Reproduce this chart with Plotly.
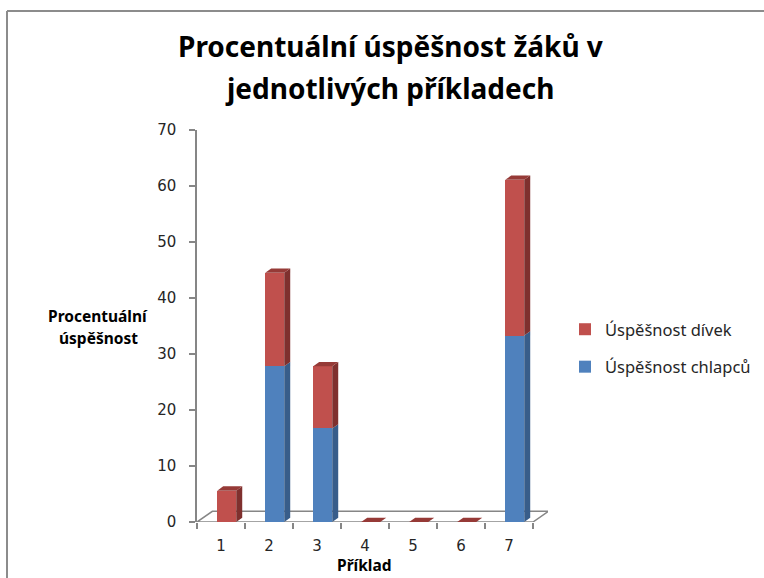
import plotly.graph_objects as go

# Data: success rate (%) per exercise
priklady = ["1", "2", "3", "4", "5", "6", "7"]
chlapci = [0, 27.8, 16.7, 0, 0, 0, 33.3]
divky = [5.6, 16.7, 11.1, 0, 0, 0, 27.8]
nazev_chlapci = "Úspěšnost chlapců"
nazev_divky = "Úspěšnost dívek"
y_ticks = [0, 10, 20, 30, 40, 50, 60, 70]

# Colours: front face, side face, top face
BLUE = ("#4F81BD", "#385D8A", "#3F6696")
RED = ("#C0504D", "#7F302E", "#963A37")
AXIS = "#868686"

# Geometry of the pseudo-3D columns (axis units)
W = 0.396      # column width
OFF = 0.119    # shift of the front face from the category centre
DX = 0.125     # depth shift along x
DY = 0.77      # depth shift along y
FLOOR_DX = 0.32
FLOOR_DY = 1.9

W_PX, H_PX = 764, 578
L, R, T, B = 197, 216, 130, 56
X_MIN = 0.5
X_MAX = X_MIN + (W_PX - L - R) / 48.0

xs = list(range(1, len(priklady) + 1))

fig = go.Figure()
fig.add_trace(go.Bar(
    x=xs, y=chlapci, name=nazev_chlapci, width=W, offset=OFF - W / 2,
    marker=dict(color=BLUE[0], line=dict(width=0)), legendgroup="a", legendrank=2,
))
fig.add_trace(go.Bar(
    x=xs, y=divky, name=nazev_divky, width=W, offset=OFF - W / 2,
    marker=dict(color=RED[0], line=dict(width=0)), legendgroup="b", legendrank=1,
))

shapes = []


def poly(pts, fill, layer="above", line=None):
    d = "M " + " L ".join(f"{x},{y}" for x, y in pts) + " Z"
    shapes.append(dict(type="path", path=d, xref="x", yref="y", fillcolor=fill,
                       line=line or dict(width=0), layer=layer))


# Floor of the 3D plot
poly([(X_MIN, 0), (7.5, 0), (7.5 + FLOOR_DX, FLOOR_DY), (X_MIN + FLOOR_DX, FLOOR_DY)],
     "white", layer="below", line=dict(color=AXIS, width=1.5))

# Side and top faces derived from the stacked values
for x, b_val, g_val in zip(xs, chlapci, divky):
    x0 = x + OFF - W / 2
    x1 = x + OFF + W / 2
    base = 0
    for val, col in ((b_val, BLUE), (g_val, RED)):
        if val > 0:
            top = base + val
            poly([(x1, base), (x1 + DX, base + DY), (x1 + DX, top + DY), (x1, top)], col[1])
            base = top
    poly([(x0, base), (x0 + DX, base + DY), (x1 + DX, base + DY), (x1, base)], RED[2])


# Helpers: container pixels -> paper coordinates
def px_x(p):
    return (p - L) / (W_PX - L - R)


def px_y(p):
    return (H_PX - B - p) / (H_PX - T - B)


# Chart border (top and left edge)
border = dict(color="#8C8C8C", width=2)
shapes.append(dict(type="line", xref="paper", yref="paper",
                   x0=px_x(7), y0=px_y(11), x1=px_x(7), y1=px_y(578), line=border))
shapes.append(dict(type="line", xref="paper", yref="paper",
                   x0=px_x(7), y0=px_y(11), x1=px_x(764), y1=px_y(11), line=border))

title_font = dict(family="Noto Sans", size=28, color="#000000")
lab_font = dict(family="Noto Sans", size=15.5, color="#000000")


def note(text, x, y, font):
    return dict(text=text, x=px_x(x), y=px_y(y), xref="paper", yref="paper",
                xanchor="center", yanchor="middle", showarrow=False, font=font)


annotations = [
    note("<b>Procentuální úspěšnost žáků v</b>", 390, 46, title_font),
    note("<b>jednotlivých příkladech</b>", 389, 88, title_font),
    note("<b>Procentuální</b>", 98, 316, lab_font),
    note("<b>úspěšnost</b>", 98, 338, lab_font),
    note("<b>Příklad</b>", 364, 565, lab_font),
]

fig.update_layout(
    width=W_PX, height=H_PX,
    margin=dict(l=L, r=R, t=T, b=B, pad=0),
    paper_bgcolor="white", plot_bgcolor="white",
    barmode="stack",
    shapes=shapes,
    annotations=annotations,
    showlegend=True,
    legend=dict(
        traceorder="grouped", tracegroupgap=13,
        xref="container", yref="container",
        x=565 / W_PX, y=1 - 312 / H_PX, xanchor="left", yanchor="top",
        font=dict(family="Noto Sans", size=16.5, color="#262626"),
        itemwidth=30, bgcolor="rgba(0,0,0,0)",
    ),
    xaxis=dict(
        range=[X_MIN, X_MAX], tickvals=xs, ticktext=priklady, ticks="",
        showline=False, showgrid=False, zeroline=False,
        tickfont=dict(family="DejaVu Sans", size=15, color="#262626"),
        ticklabelstandoff=13,
        minor=dict(tickvals=[i + 0.5 for i in range(0, len(xs) + 1)], ticks="outside",
                   ticklen=6, tickcolor=AXIS, tickwidth=1.5, showgrid=False),
    ),
    yaxis=dict(
        range=[0, 70], tickvals=y_ticks, ticks="outside", ticklen=6,
        tickcolor=AXIS, tickwidth=1.5, showline=True, linecolor=AXIS, linewidth=1.5,
        showgrid=False, zeroline=False,
        tickfont=dict(family="DejaVu Sans", size=15, color="#262626"),
        ticklabelstandoff=10,
    ),
)

fig.write_html("out.html")
